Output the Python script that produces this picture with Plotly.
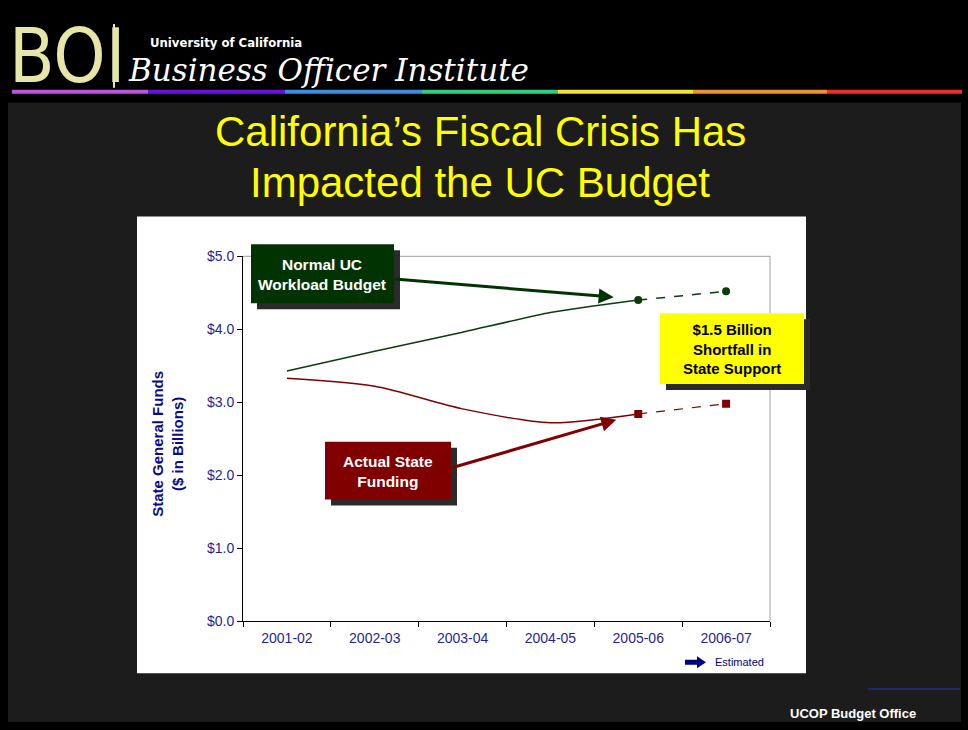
import plotly.graph_objects as go

W, H = 968, 730

years = ["2001-02", "2002-03", "2003-04", "2004-05", "2005-06", "2006-07"]
workload = [3.43, 3.70, 3.96, 4.23, 4.40, 4.52]
actual = [3.33, 3.22, 2.91, 2.72, 2.84, 2.98]

GREEN = "#0b3d0b"
RED = "#800000"
TICK = "#1f1f99"
FONT = "Arial, Liberation Sans, sans-serif"


def px(x):
    return x / W


# the photographed page comes out slightly squeezed vertically, so map the
# wanted pixel rows through that instead of plain y / H
def py(y):
    return 1 - (y - 6) / 716


def rect(x0, y0, x1, y1, color, layer="above"):
    return dict(type="rect", xref="paper", yref="paper",
                x0=px(x0), x1=px(x1), y0=py(y1), y1=py(y0),
                fillcolor=color, line=dict(width=0), layer=layer)


fig = go.Figure()

# solid part (actual years)
fig.add_trace(go.Scatter(x=years[:5], y=workload[:5], mode="lines",
                         line=dict(color=GREEN, width=1.5, shape="spline", smoothing=0.5)))
fig.add_trace(go.Scatter(x=years[:5], y=actual[:5], mode="lines",
                         line=dict(color=RED, width=1.5, shape="spline", smoothing=0.8)))
# estimated part
fig.add_trace(go.Scatter(x=years[4:], y=workload[4:], mode="lines+markers",
                         line=dict(color=GREEN, width=1.5, dash="dash"),
                         marker=dict(symbol="circle", size=8, color=GREEN)))
fig.add_trace(go.Scatter(x=years[4:], y=actual[4:], mode="lines+markers",
                         line=dict(color=RED, width=1.2, dash="dash"),
                         marker=dict(symbol="square", size=8, color=RED)))

shapes = [
    rect(8, 101, 961, 722, "#1c1c1c", "below"),
    rect(137, 215, 806, 673, "white", "below"),
    # plot frame top / right
    dict(type="line", xref="x domain", yref="y domain", x0=0, x1=1, y0=1, y1=1,
         line=dict(color="#a0a0a0", width=1)),
    dict(type="line", xref="x domain", yref="y domain", x0=1, x1=1, y0=0, y1=1,
         line=dict(color="#a0a0a0", width=1)),
    # boxes with shadows
    rect(257, 249, 400, 308, "#2b2b2b"),
    rect(251, 243, 394, 302, "#003300"),
    rect(666, 318, 810, 389, "#2b2b2b"),
    rect(660, 312, 804, 383, "#ffff00"),
    rect(331, 447, 457, 505, "#2b2b2b"),
    rect(325, 441, 451, 499, RED),
    # BOI separator
    dict(type="line", xref="paper", yref="paper", x0=px(114), x1=px(114),
         y0=py(86), y1=py(22), line=dict(color="#e6e6a8", width=2)),
    # footer line
    dict(type="line", xref="paper", yref="paper", x0=px(868), x1=px(960),
         y0=py(689), y1=py(689), line=dict(color="#1a2a6a", width=2)),
]

# rainbow bar
bar_cols = ["#c052e0", "#6a10e0", "#3a8ee0", "#2ecf80", "#f0e62c", "#f0922c", "#f02c2c"]
edges = [12, 148, 285, 422, 558, 693, 827, 962]
for i, c in enumerate(bar_cols):
    shapes.append(rect(edges[i], 88, edges[i + 1], 92, c))

# small "estimated" arrow
pts = [(685, 659.5), (697, 659.5), (697, 656), (706, 662), (697, 668), (697, 664.5), (685, 664.5)]
path = "M " + " L ".join(f"{px(a)},{py(b)}" for a, b in pts) + " Z"
shapes.append(dict(type="path", xref="paper", yref="paper", path=path,
                   fillcolor="#000080", line=dict(width=0)))

annotations = [
    dict(text="BOI", x=px(7), y=py(54), xanchor="left", yanchor="middle",
         font=dict(family="Liberation Sans Narrow, DejaVu Sans Condensed, sans-serif",
                   size=74, color="#e6e6a8")),
    dict(text="<b>University of California</b>", x=px(148), y=py(41), xanchor="left", yanchor="middle",
         font=dict(family="Liberation Sans Narrow, DejaVu Sans Condensed, sans-serif",
                   size=13, color="white")),
    dict(text="<i>Business Officer Institute</i>", x=px(126), y=py(68), xanchor="left", yanchor="middle",
         font=dict(family="DejaVu Serif, serif", size=31, color="white")),
    dict(text="California’s Fiscal Crisis Has", x=px(480), y=py(130),
         xanchor="center", yanchor="middle", font=dict(family=FONT, size=42, color="#ffff00")),
    dict(text="Impacted the UC Budget", x=px(480), y=py(181),
         xanchor="center", yanchor="middle", font=dict(family=FONT, size=42, color="#ffff00")),
    dict(text="<b>Normal UC<br>Workload Budget</b>", x=px(322), y=py(273), xanchor="center",
         yanchor="middle", align="center", font=dict(family=FONT, size=15.5, color="white")),
    dict(text="<b>$1.5 Billion<br>Shortfall in<br>State Support</b>", x=px(732), y=py(348),
         xanchor="center", yanchor="middle", align="center",
         font=dict(family=FONT, size=15, color="black")),
    dict(text="<b>Actual State<br>Funding</b>", x=px(388), y=py(471), xanchor="center",
         yanchor="middle", align="center", font=dict(family=FONT, size=15.5, color="white")),
    dict(text="<b>State General Funds<br>($ in Billions)</b>", x=px(168), y=py(443), textangle=-90,
         xanchor="center", yanchor="middle", align="center",
         font=dict(family=FONT, size=15, color="#0a0a8a")),
    dict(text="Estimated", x=px(713), y=py(662), xanchor="left", yanchor="middle",
         font=dict(family=FONT, size=11, color="#000080")),
    dict(text="<b>UCOP Budget Office</b>", x=px(788), y=py(713), xanchor="left", yanchor="middle",
         font=dict(family=FONT, size=13, color="white")),
    # arrows
    dict(x=3.72, y=4.44, ax=1.21, ay=4.69, xref="x", yref="y", axref="x", ayref="y",
         text="", showarrow=True, arrowhead=2, arrowsize=1, arrowwidth=3, arrowcolor="#003300"),
    dict(x=3.75, y=2.76, ax=1.87, ay=2.10, xref="x", yref="y", axref="x", ayref="y",
         text="", showarrow=True, arrowhead=2, arrowsize=1, arrowwidth=3, arrowcolor=RED),
]
for a in annotations:
    a.setdefault("showarrow", False)
    a.setdefault("xref", "paper")
    a.setdefault("yref", "paper")

fig.update_layout(
    width=W, height=H, margin=dict(l=0, r=0, t=0, b=0),
    paper_bgcolor="black", plot_bgcolor="white",
    showlegend=False, shapes=shapes, annotations=annotations,
    font=dict(family=FONT),
)
fig.update_xaxes(domain=[px(243), px(770)], range=[-0.5, 5.5], type="category",
                 showgrid=False, zeroline=False, showline=True, linecolor="black", linewidth=1,
                 ticks="outside", tickson="boundaries", ticklen=5, tickcolor="black",
                 tickfont=dict(size=14, color=TICK), ticklabelstandoff=4)
fig.update_yaxes(domain=[py(621), py(255)], range=[0, 5], dtick=1, tickformat="$.1f",
                 showgrid=False, zeroline=False, showline=True, linecolor="black", linewidth=1,
                 ticks="outside", ticklen=5, tickcolor="black",
                 tickfont=dict(size=14, color=TICK))

# page: no margin, no scrolling, black behind the figure
page_css = ("document.documentElement.style.margin='0';"
            "document.documentElement.style.overflow='hidden';"
            "document.documentElement.style.background='black';"
            "document.body.style.margin='0';"
            "document.body.style.overflow='hidden';")
fig.write_html("out.html", config={"responsive": False, "displayModeBar": False},
               post_script=page_css)
